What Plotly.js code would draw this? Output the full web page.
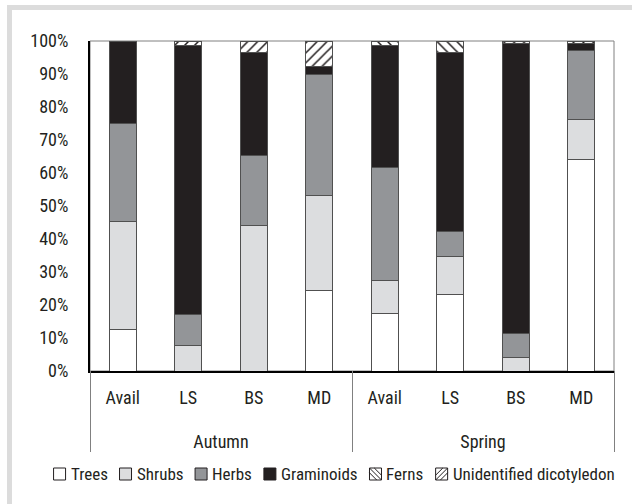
<!DOCTYPE html>
<html>
<head>
<meta charset="utf-8">
<script src="https://cdn.plot.ly/plotly-3.0.1.min.js"></script>
<style>
  html, body { margin: 0; padding: 0; background: #ffffff; }
  #wrap { position: relative; width: 632px; height: 504px; overflow: hidden; }
  .band { position: absolute; background: #dcdcdc; }
  #chart { position: absolute; left: 0; top: 0; width: 632px; height: 504px; }
</style>
</head>
<body>
<div id="wrap">
  <div class="band" style="left:7px; top:5px; width:625px; height:5px;"></div>
  <div class="band" style="left:7px; top:5px; width:5px; height:499px;"></div>
  <div id="chart"></div>
</div>
<script>
// ---- data ----
var seasons = ["Autumn", "Autumn", "Autumn", "Autumn", "Spring", "Spring", "Spring", "Spring"];
var groups  = ["Avail", "LS", "BS", "MD", "Avail", "LS", "BS", "MD"];

var trees        = [12.6, 0,    0,    24.5, 17.4, 23.2, 0,    64.2];
var shrubs       = [32.8, 7.6,  44.2, 28.8, 9.9,  11.4, 4.0,  11.9];
var herbs        = [29.5, 9.5,  21.2, 36.7, 34.4, 7.6,  7.3,  20.9];
var graminoids   = [25.1, 81.4, 31.2, 2.3,  36.8, 54.4, 87.8, 2.2];
var ferns        = [0,    0,    0,    0,    1.5,  3.4,  0,    0];
var unidentified = [0,    1.5,  3.4,  7.7,  0,    0,    0.9,  0.8];

var yTickVals = [0, 10, 20, 30, 40, 50, 60, 70, 80, 90, 100];

// ---- derived positions (category index, season centres, season boundaries) ----
var idx = groups.map(function (g, i) { return i; });
var seasonNames = seasons.filter(function (s, i) { return seasons.indexOf(s) === i; });
var seasonCenters = seasonNames.map(function (s) {
  var ii = idx.filter(function (i) { return seasons[i] === s; });
  return ii.reduce(function (a, b) { return a + b; }, 0) / ii.length;
});
var dividers = [-0.5];
for (var i = 1; i < seasons.length; i++) { if (seasons[i] !== seasons[i - 1]) dividers.push(i - 0.5); }
dividers.push(seasons.length - 0.5);
var xRange = [-0.5, seasons.length - 0.5];

// ---- styling ----
var FONT = "Liberation Sans Narrow, Roboto Condensed, DejaVu Sans Condensed, Arial Narrow, sans-serif";
var FS = 18;      // axis labels
var FS_LEG = 17;  // legend
var TXT = "#231f20";
var EDGE = "#505050";

var series = [
  { name: "Trees", vals: trees, fill: "#ffffff" },
  { name: "Shrubs", vals: shrubs, fill: "#dcdddf" },
  { name: "Herbs", vals: herbs, fill: "#939598" },
  { name: "Graminoids", vals: graminoids, fill: "#231f20" },
  { name: "Ferns", vals: ferns, fill: "#ffffff", pattern: "\\" },
  { name: "Unidentified dicotyledon", vals: unidentified, fill: "#ffffff", pattern: "/" }
];

var data = series.map(function (s) {
  var marker = { color: s.fill, line: { color: EDGE, width: 1 } };
  if (s.pattern) {
    marker.pattern = { shape: s.pattern, fgcolor: "#231f20", bgcolor: "#ffffff", size: 7, solidity: 0.22 };
  }
  return { type: "bar", name: s.name, x: idx, y: s.vals, marker: marker, hoverinfo: "skip", showlegend: false };
});
// empty helper trace so the season axis has a subplot
data.push({ type: "scatter", x: [], y: [], xaxis: "x2", yaxis: "y", showlegend: false, hoverinfo: "skip" });

// ---- page geometry ----
var W = 632, H = 504;
var M = { l: 90, r: 18, t: 41, b: 52 };
var plotBottomPx = 371;            // y pixel of the 0% baseline
var paperH = H - M.t - M.b;
var paperW = W - M.l - M.r;
var yDomainBottom = (H - M.b - plotBottomPx) / paperH;
function px2x(px) { return (px - M.l) / paperW; }
function py2y(py) { return (H - M.b - py) / paperH; }

// ---- hand-made legend (measured text widths) ----
var canvas = document.createElement("canvas");
var ctx = canvas.getContext("2d");
ctx.font = FS_LEG + "px " + FONT;
var ICON = 12, GAP_IT = 5, GAP_ITEM = 12;
var widths = series.map(function (s) { return ctx.measureText(s.name).width; });
var total = 0;
widths.forEach(function (w, k) { total += ICON + GAP_IT + w + (k < widths.length - 1 ? GAP_ITEM : 0); });
var legendCenterPx = 334, legendMidY = 474;
var cur = legendCenterPx - total / 2;
var shapes = [
  { type: "rect", xref: "paper", yref: "y domain", x0: 0, x1: 1, y0: 0, y1: 1,
    line: { color: "#808080", width: 1 }, layer: "below", fillcolor: "rgba(0,0,0,0)" }
];
var annotations = [];
series.forEach(function (s, k) {
  var x0 = cur, x1 = cur + ICON, yT = legendMidY - ICON / 2, yB = legendMidY + ICON / 2;
  shapes.push({ type: "rect", xref: "paper", yref: "paper",
    x0: px2x(x0), x1: px2x(x1), y0: py2y(yB), y1: py2y(yT),
    fillcolor: s.fill, line: { color: "#231f20", width: 1 } });
  if (s.pattern) {
    var kk = ICON / 2.5;
    var segs;
    if (s.pattern === "/") {
      segs = [[x0, yB, x1, yT], [x0, yB - kk, x1 - kk, yT], [x0 + kk, yB, x1, yT + kk]];
    } else {
      segs = [[x0, yT, x1, yB], [x0, yT + kk, x1 - kk, yB], [x0 + kk, yT, x1, yB - kk]];
    }
    segs.forEach(function (sg) {
      shapes.push({ type: "line", xref: "paper", yref: "paper",
        x0: px2x(sg[0]), y0: py2y(sg[1]), x1: px2x(sg[2]), y1: py2y(sg[3]),
        line: { color: "#231f20", width: 1 } });
    });
  }
  annotations.push({ xref: "paper", yref: "paper", x: px2x(x1 + GAP_IT - 1), y: py2y(legendMidY),
    xanchor: "left", yanchor: "middle", text: s.name, showarrow: false,
    font: { family: FONT, size: FS_LEG, color: TXT }, borderpad: 0 });
  cur = x1 + GAP_IT + widths[k] + GAP_ITEM;
});

var layout = {
  width: W,
  height: H,
  paper_bgcolor: "rgba(0,0,0,0)",
  plot_bgcolor: "#ffffff",
  margin: { l: M.l, r: M.r, t: M.t, b: M.b, pad: 0 },
  barmode: "stack",
  bargap: 0.59,
  font: { family: FONT, size: FS, color: TXT },
  showlegend: false,
  xaxis: {
    range: xRange,
    tickmode: "array",
    tickvals: idx,
    ticktext: groups,
    showline: true,
    linecolor: "#000000",
    linewidth: 2,
    ticks: "outside",
    ticklen: 9,
    tickcolor: "rgba(0,0,0,0)",
    showgrid: false,
    zeroline: false,
    fixedrange: true,
    tickfont: { family: FONT, size: FS, color: TXT }
  },
  xaxis2: {
    overlaying: "x",
    anchor: "free",
    position: 0,
    side: "top",
    range: xRange,
    tickmode: "array",
    tickvals: seasonCenters,
    ticktext: seasonNames,
    ticks: "",
    showline: false,
    showgrid: false,
    zeroline: false,
    tickfont: { family: FONT, size: FS, color: TXT },
    minor: { tickmode: "array", tickvals: dividers, ticks: "outside", ticklen: 81,
             tickwidth: 1, tickcolor: "#808080", showgrid: false }
  },
  yaxis: {
    domain: [yDomainBottom, 1],
    range: [0, 100],
    tickmode: "array",
    tickvals: yTickVals,
    ticktext: yTickVals.map(function (v) { return v + "%"; }),
    showline: true,
    linecolor: "#000000",
    linewidth: 2,
    ticks: "outside",
    ticklen: 16,
    tickcolor: "rgba(0,0,0,0)",
    showgrid: false,
    zeroline: false,
    tickfont: { family: FONT, size: FS, color: TXT }
  },
  shapes: shapes,
  annotations: annotations
};

Plotly.newPlot("chart", data, layout, { displayModeBar: false, staticPlot: true });
</script>
</body>
</html>
